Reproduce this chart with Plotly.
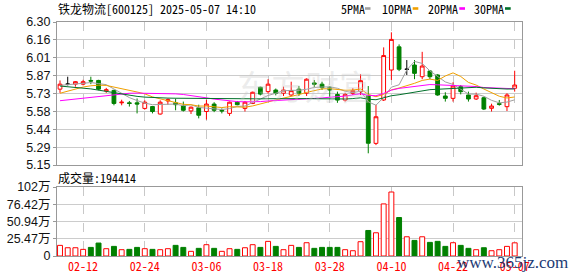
import plotly.graph_objects as go

# ---------------- data ----------------
dates = ["02-07","02-10","02-11","02-12","02-13","02-14","02-17","02-18","02-19","02-20",
         "02-21","02-24","02-25","02-26","02-27","02-28","03-03","03-04","03-05","03-06",
         "03-07","03-10","03-11","03-12","03-13","03-14","03-17","03-18","03-19","03-20",
         "03-21","03-24","03-25","03-26","03-27","03-28","03-31","04-01","04-02","04-03",
         "04-07","04-08","04-09","04-10","04-11","04-14","04-15","04-16","04-17","04-18",
         "04-21","04-22","04-23","04-24","04-25","04-28","04-29","04-30","05-06","05-07"]

open_ = [5.76,5.80,5.80,5.80,5.83,5.83,5.745,5.75,5.65,5.65,
         5.65,5.605,5.62,5.56,5.665,5.65,5.625,5.585,5.61,5.58,
         5.64,5.59,5.565,5.655,5.605,5.645,5.775,5.74,5.753,5.727,
         5.713,5.76,5.727,5.81,5.80,5.775,5.717,5.672,5.727,5.74,
         5.707,5.324,5.673,5.914,6.10,5.92,5.954,5.86,5.906,5.874,
         5.705,5.686,5.78,5.713,5.681,5.691,5.606,5.643,5.619,5.767]
high = [5.83,5.86,5.825,5.835,5.86,5.835,5.77,5.755,5.675,5.665,
        5.685,5.67,5.625,5.67,5.685,5.685,5.66,5.62,5.635,5.675,
        5.655,5.605,5.66,5.665,5.665,5.74,5.78,5.84,5.765,5.78,
        5.82,5.785,5.847,5.833,5.82,5.785,5.74,5.73,5.767,5.88,
        5.785,5.633,6.096,6.217,6.12,5.994,5.994,6.06,5.914,5.88,
        5.735,5.815,5.793,5.74,5.732,5.70,5.643,5.673,5.727,5.908]
low = [5.73,5.79,5.78,5.79,5.80,5.75,5.73,5.63,5.63,5.62,
       5.565,5.595,5.565,5.555,5.635,5.59,5.58,5.56,5.525,5.515,
       5.575,5.565,5.545,5.63,5.58,5.64,5.71,5.725,5.71,5.705,
       5.705,5.705,5.705,5.775,5.753,5.70,5.65,5.66,5.713,5.713,
       5.244,5.31,5.665,5.834,5.905,5.874,5.84,5.84,5.84,5.707,
       5.66,5.66,5.718,5.66,5.673,5.592,5.58,5.627,5.584,5.74]
close = [5.80,5.80,5.82,5.82,5.825,5.76,5.755,5.645,5.655,5.645,
         5.64,5.655,5.58,5.655,5.675,5.635,5.59,5.615,5.55,5.64,
         5.59,5.585,5.655,5.635,5.655,5.735,5.72,5.80,5.727,5.753,
         5.748,5.727,5.84,5.80,5.772,5.753,5.672,5.717,5.748,5.828,
         5.325,5.538,6.03,6.16,5.92,5.92,5.887,5.946,5.86,5.713,
         5.686,5.785,5.74,5.681,5.707,5.60,5.624,5.638,5.713,5.793]

ma5 = [5.790,5.795,5.800,5.808,5.813,5.805,5.796,5.761,5.728,5.692,
       5.668,5.648,5.635,5.635,5.641,5.640,5.627,5.634,5.613,5.606,
       5.597,5.596,5.604,5.621,5.624,5.653,5.680,5.709,5.727,5.747,
       5.750,5.751,5.759,5.774,5.777,5.778,5.767,5.743,5.732,5.744,
       5.658,5.631,5.694,5.776,5.795,5.914,5.983,5.967,5.907,5.865,
       5.818,5.798,5.757,5.721,5.720,5.703,5.670,5.650,5.656,5.674]
ma10 = [5.727,5.745,5.762,5.777,5.787,5.792,5.790,5.778,5.765,5.753,
        5.737,5.722,5.698,5.682,5.667,5.654,5.638,5.635,5.624,5.624,
        5.619,5.612,5.619,5.617,5.615,5.625,5.638,5.657,5.674,5.686,
        5.701,5.716,5.734,5.751,5.762,5.764,5.759,5.751,5.753,5.761,
        5.718,5.699,5.718,5.754,5.769,5.786,5.807,5.830,5.841,5.830,
        5.866,5.891,5.862,5.814,5.793,5.761,5.734,5.703,5.689,5.697]
ma20 = [5.667,5.674,5.681,5.688,5.695,5.703,5.710,5.718,5.724,5.727,
        5.728,5.728,5.727,5.727,5.725,5.722,5.717,5.710,5.700,5.690,
        5.680,5.672,5.665,5.660,5.658,5.658,5.660,5.665,5.668,5.670,
        5.672,5.674,5.677,5.684,5.689,5.695,5.699,5.704,5.714,5.723,
        5.710,5.707,5.726,5.752,5.766,5.775,5.783,5.791,5.797,5.795,
        5.792,5.795,5.790,5.784,5.781,5.773,5.771,5.767,5.765,5.763]
ma30 = [5.785,5.780,5.775,5.769,5.762,5.752,5.742,5.731,5.720,5.710,
        5.702,5.696,5.692,5.690,5.688,5.687,5.686,5.685,5.684,5.683,
        5.682,5.682,5.681,5.681,5.681,5.681,5.682,5.683,5.684,5.687,
        5.685,5.683,5.684,5.683,5.681,5.681,5.678,5.681,5.684,5.690,
        5.679,5.675,5.690,5.707,5.715,5.725,5.735,5.746,5.756,5.759,
        5.762,5.769,5.771,5.773,5.775,5.770,5.767,5.762,5.761,5.762]

volume_wan = [15.7,12.2,12.2,9.8,12.7,19.1,10.8,14.2,9.3,9.8,
              12.7,10.8,9.8,9.3,10.8,15.7,12.7,6.9,11.3,16.7,
              11.3,6.9,10.8,9.8,12.2,16.7,12.7,21.6,14.2,9.3,
              15.7,12.7,19.6,11.3,12.7,12.7,12.7,9.3,7.8,21.1,
              37.7,34.3,76.9,94.5,56.8,28.4,23.0,28.4,20.1,21.6,
              14.2,19.6,15.7,11.3,9.3,12.2,7.8,9.3,14.2,19.4414]
vol_up = [1,1,1,1,0,0,1,0,1,0, 0,1,0,1,1,0,0,1,0,1,
          0,1,1,0,1,1,0,1,0,1, 1,0,1,0,0,0,0,1,1,1,
          0,1,1,1,0,1,0,1,0,0, 0,1,0,0,1,0,1,1,1,1]

price_ticks = [5.15, 5.29375, 5.4375, 5.58125, 5.725, 5.86875, 6.0125, 6.15625, 6.30]
price_labels = ["5.15","5.29","5.44","5.58","5.73","5.87","6.01","6.16","6.30"]
vol_ticks = [0, 25.47, 50.94, 76.42, 101.88]
vol_labels = ["0","25.47万","50.94万","76.42万","102万"]
x_tick_idx = [3, 11, 19, 27, 35, 43, 51, 59]

title_text = "铁龙物流[600125] 2025-05-07 14:10"
vol_text = "成交量:194414"
ma_names = ["5PMA", "10PMA", "20PMA", "30PMA"]

# ---------------- styling ----------------
RED = "#ff0000"
GREEN = "#008000"
MA_COLORS = ["#a0a0a0", "#f0a000", "#ff00ff", "#00702a"]
MONO = "Noto Sans Mono CJK SC, Liberation Mono, monospace"

L, R, T, B = 57, 522, 22, 256
W, H = R - L, B - T
def px(x): return (x - L) / W
def py(y): return (B - y) / H

fig = go.Figure()

def subset(cond):
    o = [open_[i] if cond(i) else None for i in range(len(dates))]
    h = [high[i] if cond(i) else None for i in range(len(dates))]
    l = [low[i] if cond(i) else None for i in range(len(dates))]
    c = [close[i] if cond(i) else None for i in range(len(dates))]
    return o, h, l, c

o, h, l, c = subset(lambda i: close[i] > open_[i])
fig.add_trace(go.Candlestick(x=dates, open=o, high=h, low=l, close=c,
    increasing=dict(line=dict(color=RED, width=1), fillcolor="white"),
    decreasing=dict(line=dict(color=RED, width=1), fillcolor="white"),
    showlegend=False, hoverinfo="skip", xaxis="x", yaxis="y"))
o, h, l, c = subset(lambda i: close[i] < open_[i])
fig.add_trace(go.Candlestick(x=dates, open=o, high=h, low=l, close=c,
    increasing=dict(line=dict(color=GREEN, width=1), fillcolor=GREEN),
    decreasing=dict(line=dict(color=GREEN, width=1), fillcolor=GREEN),
    showlegend=False, hoverinfo="skip", xaxis="x", yaxis="y"))
o, h, l, c = subset(lambda i: close[i] == open_[i])
fig.add_trace(go.Candlestick(x=dates, open=o, high=h, low=l, close=c,
    increasing=dict(line=dict(color="black", width=1), fillcolor="black"),
    decreasing=dict(line=dict(color="black", width=1), fillcolor="black"),
    showlegend=False, hoverinfo="skip", xaxis="x", yaxis="y"))

for vals, col in zip([ma5, ma10, ma20, ma30], MA_COLORS):
    fig.add_trace(go.Scatter(x=dates, y=vals, mode="lines",
        line=dict(color=col, width=1), showlegend=False, hoverinfo="skip",
        xaxis="x", yaxis="y"))

fig.add_trace(go.Bar(x=dates, y=volume_wan, width=0.64,
    marker=dict(color=["white" if u else GREEN for u in vol_up],
                line=dict(color=[RED if u else GREEN for u in vol_up], width=1)),
    showlegend=False, hoverinfo="skip", xaxis="x2", yaxis="y2"))

tickvals = [dates[i] for i in x_tick_idx]
common_x = dict(type="category", categoryorder="array", categoryarray=dates,
                range=[-0.39, 59.95], tickvals=tickvals, ticktext=tickvals,
                showgrid=True, gridcolor="#c8c8c8", griddash="dash", gridwidth=1,
                showline=True, mirror=True, linecolor="#999999", linewidth=1,
                ticks="", zeroline=False, fixedrange=True, automargin=False)

fig.update_layout(
    width=578, height=276,
    margin=dict(l=L, r=578 - R, t=T, b=276 - B, autoexpand=False),
    paper_bgcolor="white", plot_bgcolor="white",
    showlegend=False,
    xaxis=dict(common_x, domain=[0, 1], anchor="y", showticklabels=False,
               rangeslider=dict(visible=False)),
    xaxis2=dict(common_x, domain=[0, 1], anchor="y2", showticklabels=True,
                tickfont=dict(family=MONO, size=12, color=RED)),
    yaxis=dict(domain=[py(165), 1], range=[5.15, 6.30], tickvals=price_ticks,
               ticktext=price_labels, showgrid=True, gridcolor="#cccccc",
               showline=True, mirror=True, linecolor="#999999",
               ticks="outside", ticklen=3, tickcolor="#999999",
               tickfont=dict(family="Liberation Sans, Arial", size=12.5, color="#111"),
               zeroline=False, fixedrange=True, automargin=False),
    yaxis2=dict(domain=[0, py(187)], range=[0, 101.88], tickvals=vol_ticks,
                ticktext=vol_labels, showgrid=True, gridcolor="#cccccc",
                showline=True, mirror=True, linecolor="#999999",
                ticks="outside", ticklen=3, tickcolor="#999999",
                tickfont=dict(family="Liberation Sans, Arial, Noto Sans CJK SC", size=12.5, color="#111"),
                zeroline=False, fixedrange=True, automargin=False),
)

ann = []
ann.append(dict(text=title_text, x=px(56), y=py(9), xref="paper", yref="paper",
                xanchor="left", yanchor="middle", showarrow=False,
                font=dict(family=MONO, size=12, color="black")))
for name, xpos in zip(ma_names, [339, 380, 426, 472]):
    ann.append(dict(text=name, x=px(xpos), y=py(9), xref="paper", yref="paper",
                    xanchor="left", yanchor="middle", showarrow=False,
                    font=dict(family=MONO, size=12, color="black")))
ann.append(dict(text=vol_text, x=px(56), y=py(177), xref="paper", yref="paper",
                xanchor="left", yanchor="middle", showarrow=False,
                font=dict(family=MONO, size=12, color="black")))
ann.append(dict(text="东方财富", x=px(305), y=py(85), xref="paper", yref="paper",
                xanchor="center", yanchor="middle", showarrow=False,
                font=dict(family="Noto Sans CJK SC", size=34, color="rgba(200,200,200,0.35)")))
ann.append(dict(text="www.365jz.com", x=px(512), y=py(262), xref="paper", yref="paper",
                xanchor="center", yanchor="middle", showarrow=False,
                font=dict(family="Liberation Serif, Times New Roman, serif", size=17, color="#1c3a74")))
fig.update_layout(annotations=ann)

shapes = []
for (x0, x1), col in zip([(365, 370.5), (412.7, 418.3), (459.3, 465), (505, 510.7)], MA_COLORS):
    shapes.append(dict(type="rect", xref="paper", yref="paper",
                       x0=px(x0), x1=px(x1), y0=py(9.8), y1=py(7.2),
                       fillcolor=col, line=dict(width=0)))
fig.update_layout(shapes=shapes)

fig.write_html("out.html")
